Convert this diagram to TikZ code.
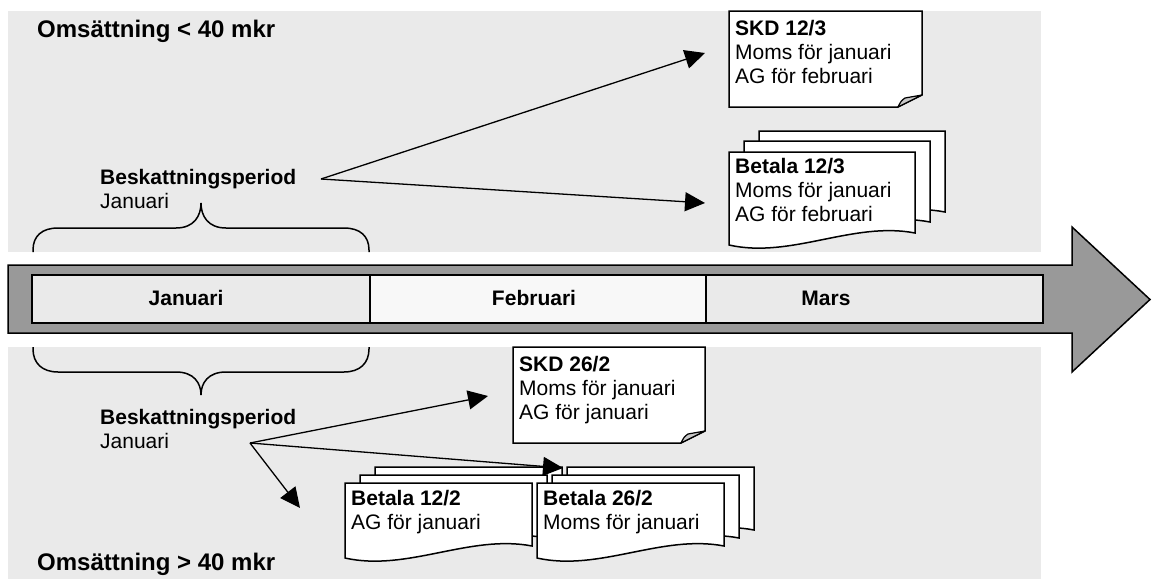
\documentclass[tikz,border=0pt]{standalone}
\usepackage{fontspec}
\setmainfont{Liberation Sans}
\usetikzlibrary{arrows.meta}
\definecolor{bandgray}{HTML}{EAEAEA}
\definecolor{arrowgray}{HTML}{999999}
\definecolor{lightcell}{HTML}{F8F8F8}
\definecolor{flapgray}{HTML}{C8C8C8}
\begin{document}
\begin{tikzpicture}[x=1pt,y=-1pt,
  band/.style={fill=bandgray, draw=none},
  outline/.style={draw=black, line width=1.5pt, line join=miter},
  pageline/.style={draw=black, fill=white, line width=1.5pt},
  flapline/.style={draw=black, fill=flapgray, line width=1.2pt, line join=round},
  txt/.style={font=\fontsize{21}{24}\selectfont, inner sep=0pt, align=left, anchor=base west},
  celltxt/.style={font=\fontsize{21}{24}\selectfont\bfseries, inner sep=0pt, anchor=base},
  title/.style={font=\fontsize{24}{28}\selectfont\bfseries, inner sep=0pt, anchor=base west},
  brace/.style={draw=black, line width=1.5pt},
  conn/.style={draw=black, line width=1.3pt, -{Triangle[length=20pt,width=19pt]}},
  pics/wpage/.style n args={2}{code={
    \path[pageline] (0,0) -- (#1,0) -- (#1,#2-12) .. controls (2*#1/3,#2-24) and (#1/3,#2+14) .. (0,#2) -- cycle;}},
  pics/foldpage/.style n args={2}{code={
    \path[pageline] (0,0) -- (#1,0) -- (#1,#2-12) -- (#1-24,#2) -- (0,#2) -- cycle;
    \path[flapline] (#1-24,#2) .. controls (#1-21,#2-6) .. (#1-17,#2-9) -- (#1,#2-12) -- cycle;}}
]
\useasboundingbox (0,0) rectangle (1152,581);
\fill[white] (0,0) rectangle (1152,581);

% bands
\path[band] (8,11) rectangle (1041,252);
\path[band] (8,347) rectangle (1041,579);

% timeline arrow
\path[outline, fill=arrowgray] (8,265) -- (1072,265) -- (1072,227) -- (1150,299.5) -- (1072,372) -- (1072,333) -- (8,333) -- cycle;
\path[outline, fill=bandgray] (32,275) rectangle (370,323);
\path[outline, fill=lightcell] (370,275) rectangle (706,323);
\path[outline, fill=bandgray] (706,275) rectangle (1043,323);
\node[celltxt] (jan) at (186,305) {Januari};
\node[celltxt] (feb) at (534,305) {Februari};
\node[celltxt] (mar) at (826,305) {Mars};

% titles
\node[title] (small) at (37,37) {Omsättning < 40 mkr};
\node[title] (large) at (37,570) {Omsättning > 40 mkr};

% braces
\path[brace] (33,252) -- (33,250) .. controls (33,236) and (42,228) .. (58,228) -- (176,228)
  .. controls (194,228) and (201,216) .. (201,203)
  .. controls (201,216) and (208,228) .. (226,228) -- (344,228)
  .. controls (360,228) and (369,236) .. (369,250) -- (369,252);
\path[brace] (33,347) -- (33,349) .. controls (33,363) and (42,372) .. (58,372) -- (176,372)
  .. controls (194,372) and (201,383) .. (201,395)
  .. controls (201,383) and (208,372) .. (226,372) -- (344,372)
  .. controls (360,372) and (369,363) .. (369,349) -- (369,347);

% period labels (anchor at last line's baseline)
\node[txt] (perT) at (100,208) {\bfseries Beskattningsperiod\\Januari};
\node[txt] (perB) at (100,448) {\bfseries Beskattningsperiod\\Januari};

% top documents
\pic at (729,11) {foldpage={193}{96}};
\node[txt] (skdT) at (735,83) {\bfseries SKD 12/3\\Moms för januari\\AG för februari};
\pic at (759,131) {wpage={186}{93}};
\pic at (744,141) {wpage={186}{93}};
\pic at (729,152) {wpage={186}{93}};
\node[txt] (betT) at (735,221) {\bfseries Betala 12/3\\Moms för januari\\AG för februari};

% bottom documents
\pic at (513,347) {foldpage={192}{96}};
\node[txt] (skdB) at (519,419) {\bfseries SKD 26/2\\Moms för januari\\AG för januari};
\pic at (375,467) {wpage={187}{75}};
\pic at (360,475) {wpage={187}{75}};
\pic at (345,483) {wpage={187}{75}};
\node[txt] (bet1) at (351,529) {\bfseries Betala 12/2\\AG för januari};
\pic at (567,467) {wpage={187}{75}};
\pic at (552,475) {wpage={187}{75}};
\pic at (537,483) {wpage={187}{75}};
\node[txt] (bet2) at (543,529) {\bfseries Betala 26/2\\Moms för januari};

% connectors
\coordinate (apexT) at (321,179);
\coordinate (toSkdT) at (705,53);
\coordinate (toBetT) at (705,203);
\draw[conn] (apexT) -- (toSkdT);
\draw[conn] (apexT) -- (toBetT);
\coordinate (apexB) at (250,443);
\coordinate (toSkdB) at (488,396);
\coordinate (toBet2) at (563,468);
\coordinate (toBet1) at (300,508);
\draw[conn] (apexB) -- (toSkdB);
\draw[conn] (apexB) -- (toBet2);
\draw[conn] (apexB) -- (toBet1);
\end{tikzpicture}
\end{document}
